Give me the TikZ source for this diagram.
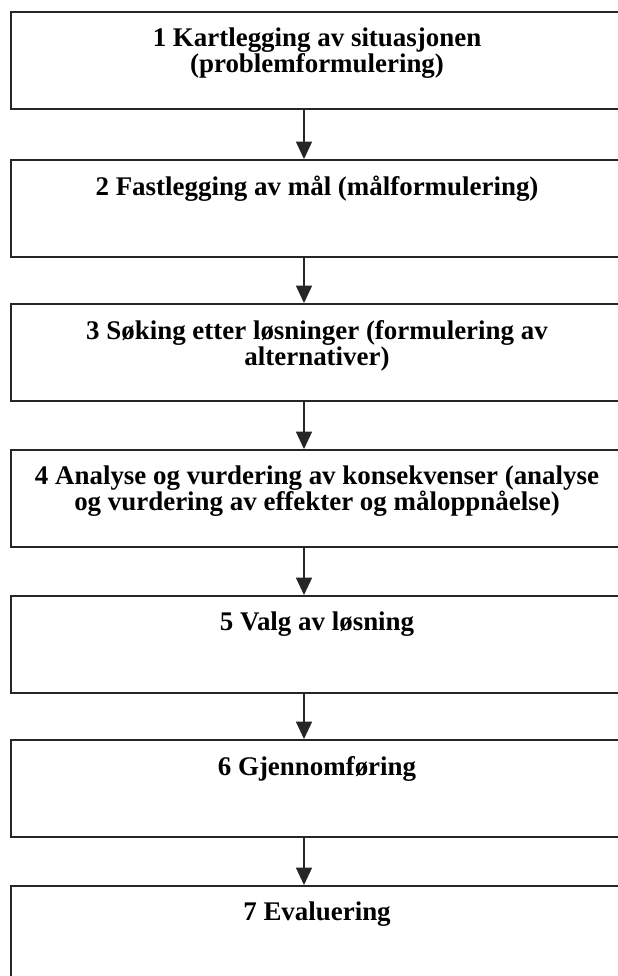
\documentclass[tikz,border=0pt]{standalone}
\usepackage{fontspec}
\setmainfont{Liberation Serif}
\usetikzlibrary{arrows.meta}
\tikzset{
  stepbox/.style={draw=black!85, line width=1.3pt, rectangle, minimum width=460.5pt, minimum height=72.75pt, inner sep=0pt, anchor=north west},
  steptext/.style={font=\fontsize{20.2}{19.5}\selectfont\bfseries, align=center, anchor=north, inner sep=0pt, text=black},
  arr/.style={draw=black!85, line width=1.1pt, -{Triangle[width=12pt,length=13pt]}}
}
\begin{document}
\begin{tikzpicture}[x=0.75pt,y=-0.75pt]
\useasboundingbox (0,0) rectangle (618,976);
\begin{scope}
\clip (0,0) rectangle (618,976);
\node[stepbox] (b1) at (10,11) {};
\node[stepbox] (b2) at (10,159) {};
\node[stepbox] (b3) at (10,303) {};
\node[stepbox] (b4) at (10,449) {};
\node[stepbox] (b5) at (10,595) {};
\node[stepbox] (b6) at (10,739) {};
\node[stepbox, minimum height=82.5pt] (b7) at (10,885) {};
\node[steptext] (t1) at (317,28) {1 Kartlegging av situasjonen\\(problemformulering)};
\node[steptext] (t2) at (317,176) {2 Fastlegging av mål (målformulering)};
\node[steptext] (t3) at (317,320) {3 Søking etter løsninger (formulering av\\alternativer)};
\node[steptext] (t4) at (317,466) {4 Analyse og vurdering av konsekvenser (analyse\\og vurdering av effekter og måloppnåelse)};
\node[steptext] (t5) at (317,612) {5 Valg av løsning};
\node[steptext] (t6) at (317,756) {6 Gjennomføring};
\node[steptext] (t7) at (317,902) {7 Evaluering};
\coordinate (ax) at (304,0);
\draw[arr] (b1.south -| ax) -- (b2.north -| ax);
\draw[arr] (b2.south -| ax) -- (b3.north -| ax);
\draw[arr] (b3.south -| ax) -- (b4.north -| ax);
\draw[arr] (b4.south -| ax) -- (b5.north -| ax);
\draw[arr] (b5.south -| ax) -- (b6.north -| ax);
\draw[arr] (b6.south -| ax) -- (b7.north -| ax);
\end{scope}
\end{tikzpicture}
\end{document}
